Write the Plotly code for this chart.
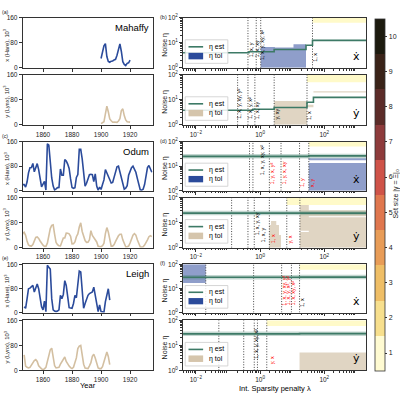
import math
import plotly.graph_objects as go

FONT = "Liberation Sans, Arial, DejaVu Sans, sans-serif"
W = H = 400

# ---------------- left column: time series (thousands) ----------------
years_mahaffy = list(range(1900, 1921))
hare_mahaffy = [30.0, 47.2, 70.2, 77.4, 36.3, 20.6, 18.1, 21.4, 22.0, 25.4, 27.1,
                40.3, 57.0, 76.6, 52.3, 19.5, 11.2, 7.6, 14.6, 16.2, 24.7]
lynx_mahaffy = [4.0, 6.1, 9.8, 35.2, 59.4, 41.7, 19.0, 13.0, 8.3, 9.1, 7.4,
                8.0, 12.3, 19.5, 45.7, 51.1, 29.7, 15.8, 9.7, 10.1, 8.6]

years_odum = list(range(1845, 1936))
hare_odum = [19.6, 19.6, 19.6, 12.0, 28.0, 58.0, 74.6, 75.1, 88.5, 61.3,
             74.7, 88.1, 68.5, 32.2, 12.6, 21.5, 30.4, 2.2, 152.7, 148.4,
             85.8, 41.4, 14.8, 2.3, 5.9, 10.0, 10.4, 70.6, 50.1, 50.1,
             101.3, 97.1, 86.5, 72.2, 38.3, 10.1, 7.7, 9.7, 43.1, 52.2,
             134.9, 134.9, 103.8, 46.1, 15.0, 24.2, 41.7, 52.3, 53.4, 52.0,
             29.4, 54.4, 15.2, 1.5, 11.8,
             4, 20, 35, 69, 58, 46, 32, 25, 27, 45,
             64, 78, 80, 60, 40, 21, 5, 8, 16, 50,
             66, 75, 80, 72, 60, 40, 16, 3, 2, 5,
             20, 50, 75, 82, 70, 60]
lynx_odum = [30.1, 45.2, 49.2, 39.5, 21.2, 8.4, 5.6, 5.1, 10.2, 19.6,
             32.9, 34.4, 29.6, 21.3, 13.7, 7.7, 4.1, 4.1, 14.3, 38.2,
             60.8, 70.8, 72.8, 42.7, 16.4, 9.8, 5.8, 5.3, 18.9, 31.0,
             31.2, 46.3, 45.8, 44.2, 36.3, 12.0, 12.6, 18.3, 35.1, 43.8,
             65.7, 79.4, 51.7, 32.6, 22.5, 17.0, 17.5, 25.0, 54.4, 38.8,
             33.2, 27.4, 18.3, 4.4, 4.1,
             3, 6, 14, 45, 64, 50, 20, 5, 5, 10,
             20, 30, 38, 43, 43, 25, 10, 3, 3, 5,
             15, 28, 40, 45, 40, 25, 10, 3, 2, 3,
             8, 15, 25, 35, 38, 35]

years_leigh = list(range(1847, 1907))
hare_leigh = [19, 14, 45, 79, 81, 85, 90, 68, 80, 95,
              79, 40, 19, 9, 38, 3, 157, 150, 144, 46,
              9, 5, 3, 5, 9, 57, 46, 60, 106, 90,
              57, 16, 15, 14, 30, 57, 49, 90, 138, 135,
              68, 14, 30, 46, 57, 63, 65, 68, 84, 60,
              36, 3, 25, 3, 2, 1, 36, 60, 79, 41]
lynx_leigh = [50, 14, 10, 8, 10, 19, 25, 32, 35, 29,
              15, 8, 5, 3, 5, 10, 30, 55, 66, 71,
              40, 15, 8, 9, 10, 20, 29, 38, 43, 29,
              20, 14, 9, 6, 10, 25, 40, 70, 78, 80,
              45, 20, 8, 6, 6, 15, 25, 45, 52, 40,
              20, 8, 6, 6, 12, 29, 50, 59, 45, 19]

dataset_names = ["Mahaffy", "Odum", "Leigh"]
year_ticks = [1860, 1880, 1900, 1920]

# ---------------- right column: noise vs sparsity penalty ----------------
# (b) Mahaffy, x-dot
b_x_vlines = [0.42, 0.76, 1.05, 43]
b_x_est_lam = [0.004, 0.45, 2.75, 27, 43, 2000]
b_x_est_eta = [4.0, 4.4, 5.4, 8.0, 12.5]
b_x_tol_bands = [(1.05, 2.9, 1, 6.8), (2.9, 11, 1, 6.5), (11, 27, 1, 8.7)]
b_x_set1 = (43, 63)
b_x_notes = [(0.5, 2.2, "1, x, y", "black"), (0.82, 2.2, "1, x, xy", "black"),
             (1.15, 1.7, "1, x, y, xy, x²", "black"), (52, 1.4, "1, x", "black")]

# (b) Mahaffy, y-dot
b_y_vlines = [0.20, 0.42, 0.69, 2.75, 29]
b_y_est_lam = [0.004, 0.6, 2.75, 29, 46, 2000]
b_y_est_eta = [3.8, 4.2, 4.9, 8.0, 12.5]
b_y_tol_bands = [(2.75, 29, 1, 9.0), (29, 46, 5.0, 6.3), (46, 2000, 19.5, 22.0)]
b_y_set1 = (29, 50)
b_y_notes = [(0.23, 1.4, "1, x, y, xy, y²", "black"), (0.48, 1.4, "1, x, y, x²", "black"),
             (0.8, 1.4, "1, x, xy", "black"), (3.4, 1.3, "y, xy", "black"),
             (35, 1.3, "1, x", "black")]

# (d) Odum, x-dot
d_x_vlines = [0.47, 0.60, 1.95, 4.5, 17, 33]
d_x_est_lam = [0.004, 33, 2000]
d_x_est_eta = [25, 26]
d_x_tol_bands = [(33, 2000, 1, 13.5), (33, 2000, 17.5, 21)]
d_x_set1 = (33, 63)
d_x_notes = [(1.15, 3.5, "1, x, y, xy, x²", "black"), (2.4, 1.5, "1, y, x, y²", "red"),
             (5.4, 1.5, "1, y, x, xy", "red"), (20, 1.2, "1, y", "red"),
             (42, 1.1, "x, y", "red")]

# (d) Odum, y-dot
d_y_vlines = [0.13, 0.42, 0.66, 1.95, 6.8, 17.4]
d_y_est_lam = [0.004, 2000]
d_y_est_eta = [24]
d_y_tol_bands = [(1.95, 2.2, 1, 8), (2.2, 3.2, 1, 11.5), (3.2, 3.9, 1, 8), (3.9, 4.5, 1, 3.2),
                 (17.4, 33, 1, 56), (33, 2000, 1, 31)]
d_y_gaps = [(33, 2000, 16.5, 18), (17.4, 33, 4.2, 4.7)]
d_y_set1 = (6.8, 50)
d_y_notes = [(0.78, 2.6, "1, x, y, xy", "black"), (1.25, 1.3, "1, x, y", "black"),
             (2.5, 1.3, "1, x", "red"), (8.5, 1.2, "y, x", "red")]

# (f) Leigh, x-dot
f_x_vlines = [0.0204, 0.63, 4.7, 9.5, 17]
f_x_est_lam = [0.004, 17, 2000]
f_x_est_eta = [29, 29.5]
f_x_tol_bands = [(0.004, 0.0204, 17, 100)]
f_x_set1 = (17, 60)
f_x_notes = [(5.6, 1.6, "1, x, y, xy, y²", "red"), (7.4, 1.6, "1, x, y, x², y²", "red"),
             (11, 1.6, "1, x, xy, x²", "red"), (21, 1.4, "1, x", "black")]

# (f) Leigh, y-dot
f_y_vlines = [0.052, 0.31, 0.66, 0.83, 1.62]
f_y_est_lam = [0.004, 17, 2000]
f_y_est_eta = [29, 29.5]
f_y_tol_bands = [(17, 2000, 1, 5.2)]
f_y_set1 = (1.62, 59)
f_y_notes = [(0.75, 2.4, "1, x, y, xy, x²", "black"), (2.4, 1.5, "y, x", "red")]

set_size_colors = ["#fffbd2", "#f7df8d", "#efbe66", "#e89c57", "#e0774e",
                   "#cf5348", "#8e3b3b", "#5c2c28", "#3a2318", "#1c1a0e"]
set_size_ticks = list(range(1, 11))

# ---------------- styling ----------------
HARE_C = "#2b4b9b"
LYNX_C = "#d3bfa1"
EST_C = "#3d7a66"
BLUE_FILL = "#8f9eca"
TAN_FILL = "#e0d5c3"
YELLOW = "#fffac9"
TXT = "#1a1a1a"

rows = [(14, 65), (72, 123), (140, 190), (197, 248), (265, 314), (322, 373)]
LX = (22.7, 152.7)
RX = (183.0, 366.0)


def xd(a, b):
    return [a / W, b / W]


def yd(t, b):
    return [1 - b / H, 1 - t / H]


axis_common = dict(showline=True, linecolor="#333", linewidth=0.8, mirror=True,
                   ticks="outside", ticklen=3, tickwidth=0.8, tickcolor="#333",
                   showgrid=False, zeroline=False,
                   tickfont=dict(size=6.5, color=TXT, family=FONT))

minor_x = [m * 10 ** k for k in range(-3, 4) for m in range(2, 10)]
minor_y = [m * 10 ** k for k in range(0, 2) for m in range(2, 10)]

fig = go.Figure()
lay = {}
for i, (t, b) in enumerate(rows):
    n = i + 1
    s = "" if n == 1 else str(n)
    lay[f"xaxis{s}"] = dict(axis_common, domain=xd(*LX), anchor=f"y{s}",
                            range=[1846, 1935.6], tickvals=year_ticks,
                            showticklabels=(i % 2 == 1))
    lay[f"yaxis{s}"] = dict(axis_common, domain=yd(t, b), anchor=f"x{s}",
                            range=[0, 160], tickvals=[0, 80, 160])
    m = i + 7
    lay[f"xaxis{m}"] = dict(axis_common, type="log", domain=xd(*RX), anchor=f"y{m}",
                            range=[-2.4, 3.3], tickvals=[0.01, 1, 100],
                            ticktext=["10<sup>−2</sup>", "10<sup>0</sup>", "10<sup>2</sup>"],
                            showticklabels=(i % 2 == 1),
                            minor=dict(tickvals=minor_x, ticks="outside", ticklen=1.8,
                                       tickwidth=0.6, tickcolor="#333"))
    lay[f"yaxis{m}"] = dict(axis_common, type="log", domain=yd(t, b), anchor=f"x{m}",
                            range=[0, 2], tickvals=[1, 10, 100],
                            ticktext=["10<sup>0</sup>", "10<sup>1</sup>", "10<sup>2</sup>"],
                            minor=dict(tickvals=minor_y, ticks="outside", ticklen=1.8,
                                       tickwidth=0.6, tickcolor="#333"))


def ax(n):
    return ("x", "y") if n == 1 else (f"x{n}", f"y{n}")


# left traces
series = [(years_mahaffy, hare_mahaffy, lynx_mahaffy),
          (years_odum, hare_odum, lynx_odum),
          (years_leigh, hare_leigh, lynx_leigh)]
for p, (yrs, hare, lynx) in enumerate(series):
    xa, ya = ax(2 * p + 1)
    fig.add_trace(go.Scatter(x=yrs, y=hare, mode="lines", xaxis=xa, yaxis=ya,
                             line=dict(color=HARE_C, width=1.6), showlegend=False,
                             hoverinfo="skip"))
    xa, ya = ax(2 * p + 2)
    fig.add_trace(go.Scatter(x=yrs, y=lynx, mode="lines", xaxis=xa, yaxis=ya,
                             line=dict(color=LYNX_C, width=1.6), showlegend=False,
                             hoverinfo="skip"))


def bands_xy(bands):
    xs, ys = [], []
    for (l0, l1, e0, e1) in bands:
        xs += [l0, l1, l1, l0, l0, None]
        ys += [e0, e0, e1, e1, e0, None]
    return xs, ys


panels = [
    (7, "x", b_x_vlines, b_x_est_lam, b_x_est_eta, b_x_tol_bands, [], b_x_set1, b_x_notes, False),
    (8, "y", b_y_vlines, b_y_est_lam, b_y_est_eta, b_y_tol_bands, [], b_y_set1, b_y_notes, False),
    (9, "x", d_x_vlines, d_x_est_lam, d_x_est_eta, d_x_tol_bands, [], d_x_set1, d_x_notes, True),
    (10, "y", d_y_vlines, d_y_est_lam, d_y_est_eta, d_y_tol_bands, d_y_gaps, d_y_set1, d_y_notes, True),
    (11, "x", f_x_vlines, f_x_est_lam, f_x_est_eta, f_x_tol_bands, [], f_x_set1, f_x_notes, True),
    (12, "y", f_y_vlines, f_y_est_lam, f_y_est_eta, f_y_tol_bands, [], f_y_set1, f_y_notes, True),
]

annotations = []
shapes = []

for (m, var, vlines, est_lam, est_eta, tol_bands, gaps, set1, notes, halo) in panels:
    xa, ya = f"x{m}", f"y{m}"
    fill = BLUE_FILL if var == "x" else TAN_FILL
    bx, by = bands_xy(tol_bands)
    fig.add_trace(go.Scatter(x=bx, y=by, mode="lines", fill="toself", fillcolor=fill,
                             line=dict(width=0), xaxis=xa, yaxis=ya, showlegend=False,
                             hoverinfo="skip"))
    if gaps:
        gx, gy = bands_xy(gaps)
        fig.add_trace(go.Scatter(x=gx, y=gy, mode="lines", fill="toself", fillcolor="white",
                                 line=dict(width=0), xaxis=xa, yaxis=ya, showlegend=False,
                                 hoverinfo="skip"))
    yx, yy = bands_xy([(set1[0], 2000, set1[1], 100)])
    fig.add_trace(go.Scatter(x=yx, y=yy, mode="lines", fill="toself", fillcolor=YELLOW,
                             line=dict(width=0), xaxis=xa, yaxis=ya, showlegend=False,
                             hoverinfo="skip"))
    vx, vy = [], []
    for v in vlines:
        vx += [v, v, None]
        vy += [1, 100, None]
    fig.add_trace(go.Scatter(x=vx, y=vy, mode="lines",
                             line=dict(color="#444", width=1, dash="1px,1.6px"),
                             xaxis=xa, yaxis=ya, showlegend=False, hoverinfo="skip"))
    ey = list(est_eta) + [est_eta[-1]]
    if halo:
        fig.add_trace(go.Scatter(x=est_lam, y=ey, mode="lines", line_shape="hv",
                                 line=dict(color="rgba(61,122,102,0.3)", width=4.5),
                                 xaxis=xa, yaxis=ya, showlegend=False, hoverinfo="skip"))
    fig.add_trace(go.Scatter(x=est_lam, y=ey, mode="lines", line_shape="hv",
                             line=dict(color=EST_C, width=1.6), xaxis=xa, yaxis=ya,
                             showlegend=False, hoverinfo="skip"))
    for (lam, eta, txt, col) in notes:
        annotations.append(dict(x=math.log10(lam), y=math.log10(eta), xref=xa, yref=ya,
                                text=txt, textangle=-90, showarrow=False,
                                xanchor="center", yanchor="bottom",
                                font=dict(size=5.5, color=col, family=FONT)))
    # derivative label
    annotations.append(dict(x=0.95, y=0.06, xref=f"x{m} domain", yref=f"y{m} domain",
                            text="ẋ" if var == "x" else "ẏ", showarrow=False,
                            xanchor="center", yanchor="bottom",
                            font=dict(size=11, color="black", family="DejaVu Sans")))
    # legend (drawn)
    dx, dy = f"x{m} domain", f"y{m} domain"
    shapes.append(dict(type="rect", xref=dx, yref=dy, x0=0.012, x1=0.245, y0=0.09, y1=0.56,
                       fillcolor="rgba(255,255,255,0.85)", line=dict(color="#cccccc", width=0.8)))
    shapes.append(dict(type="line", xref=dx, yref=dy, x0=0.03, x1=0.11, y0=0.42, y1=0.42,
                       line=dict(color=EST_C, width=1.6)))
    shapes.append(dict(type="rect", xref=dx, yref=dy, x0=0.03, x1=0.11, y0=0.17, y1=0.30,
                       fillcolor=HARE_C if var == "x" else "#d5c5ac", line=dict(width=0)))
    annotations.append(dict(x=0.13, y=0.42, xref=dx, yref=dy, text="η est", showarrow=False,
                            xanchor="left", yanchor="middle",
                            font=dict(size=7, color="black", family=FONT)))
    annotations.append(dict(x=0.13, y=0.235, xref=dx, yref=dy, text="η tol", showarrow=False,
                            xanchor="left", yanchor="middle",
                            font=dict(size=7, color="black", family=FONT)))

# colorbar
cs = []
for i, c in enumerate(set_size_colors):
    cs.append([i / 10, c])
    cs.append([(i + 1) / 10, c])
fig.add_trace(go.Scatter(x=[1e-6], y=[1e-6], xaxis="x7", yaxis="y7", mode="markers",
                         marker=dict(color=[1], cmin=0.5, cmax=10.5, colorscale=cs, opacity=0,
                                     showscale=True,
                                     colorbar=dict(x=375 / W, xanchor="left", y=1 - 194 / H,
                                                   yanchor="middle", len=358 / H, lenmode="fraction",
                                                   thickness=10, thicknessmode="pixels",
                                                   outlinewidth=0.8, outlinecolor="#333",
                                                   tickvals=set_size_ticks, ticks="outside",
                                                   ticklen=2.5, tickcolor="#333",
                                                   tickfont=dict(size=7, family=FONT, color=TXT),
                                                   xpad=0, ypad=0)),
                         showlegend=False, hoverinfo="skip"))

# texts: titles, labels
for i, (t, b) in enumerate(rows):
    cy = 1 - ((t + b) / 2 + 2) / H
    annotations.append(dict(x=6 / W, y=cy, xref="paper", yref="paper",
                            text="x (Hare), 10<sup>3</sup>" if i % 2 == 0 else "y (Lynx), 10<sup>3</sup>",
                            textangle=-90, showarrow=False, xanchor="center", yanchor="middle",
                            font=dict(size=5.8, color=TXT, family=FONT)))
    annotations.append(dict(x=165 / W, y=cy, xref="paper", yref="paper", text="Noise η",
                            textangle=-90, showarrow=False, xanchor="center", yanchor="middle",
                            font=dict(size=7, color=TXT, family=FONT)))
letters = ["(a)", "(b)", "(c)", "(d)", "(e)", "(f)"]
for p in range(3):
    t = rows[2 * p][0]
    annotations.append(dict(x=0 / W, y=1 - (t - 6) / H, xref="paper", yref="paper", text=letters[2 * p],
                            showarrow=False, xanchor="left", yanchor="middle",
                            font=dict(size=5.2, color=TXT, family=FONT)))
    annotations.append(dict(x=158 / W, y=1 - (t - 1) / H, xref="paper", yref="paper",
                            text=letters[2 * p + 1], showarrow=False, xanchor="left", yanchor="middle",
                            font=dict(size=5.5, color=TXT, family=FONT)))
    xa = "x" if p == 0 else f"x{2 * p + 1}"
    ya = "y" if p == 0 else f"y{2 * p + 1}"
    annotations.append(dict(x=0.985, y=0.96, xref=f"{xa} domain", yref=f"{ya} domain",
                            text=dataset_names[p], showarrow=False, xanchor="right", yanchor="top",
                            font=dict(size=9.5, color="black", family=FONT)))

annotations.append(dict(x=(LX[0] + LX[1]) / 2 / W, y=1 - 388 / H, xref="paper", yref="paper",
                        text="Year", showarrow=False, xanchor="center", yanchor="middle",
                        font=dict(size=7.5, color="black", family=FONT)))
annotations.append(dict(x=(RX[0] + RX[1]) / 2 / W, y=1 - 391 / H, xref="paper", yref="paper",
                        text="Int. Sparsity penalty λ", showarrow=False, xanchor="center",
                        yanchor="middle", font=dict(size=7.5, color="black", family=FONT)))
annotations.append(dict(x=396 / W, y=1 - 193 / H, xref="paper", yref="paper",
                        text="Set size |γ = Ξ|₀", textangle=-90, showarrow=False,
                        xanchor="center", yanchor="middle",
                        font=dict(size=7, color=TXT, family=FONT)))

fig.update_layout(width=W, height=H, margin=dict(l=0, r=0, t=0, b=0),
                  paper_bgcolor="white", plot_bgcolor="white",
                  font=dict(family=FONT, size=7, color=TXT),
                  annotations=annotations, shapes=shapes, showlegend=False, **lay)

fig.write_html("out.html")
